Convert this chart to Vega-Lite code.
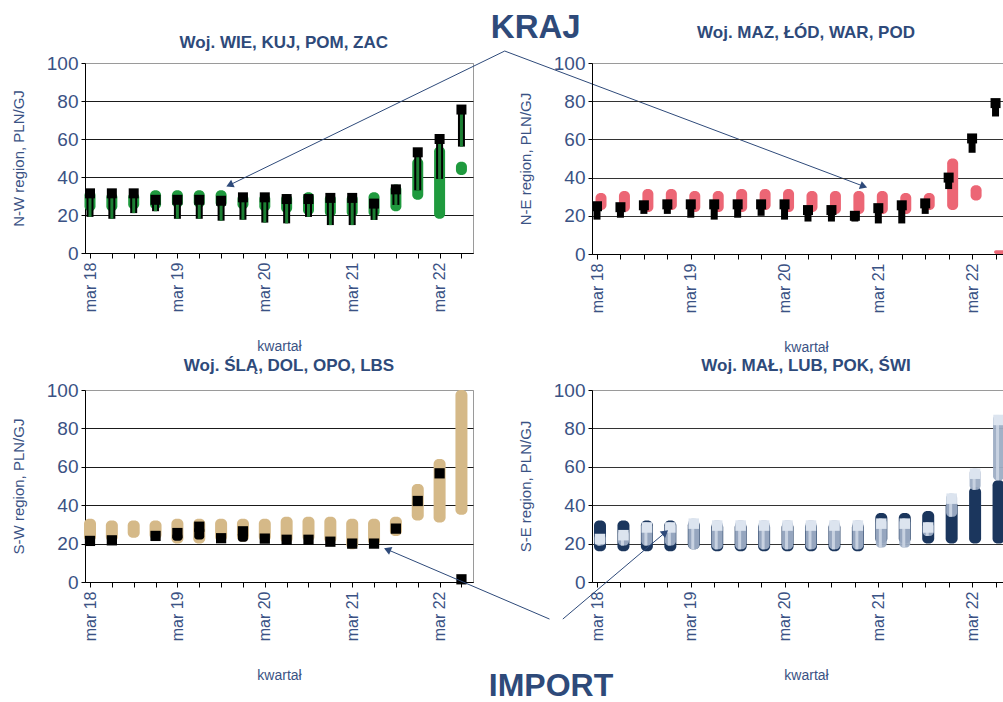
{
  "$schema": "https://vega.github.io/schema/vega-lite/v6.json",
  "background": "white",
  "padding": {"left": 10, "top": 11, "right": 0, "bottom": 0},
  "columns": 2,
  "spacing": {"row": 136, "column": 119},
  "bounds": "flush",
  "align": "each",
  "config": {
    "font": "Liberation Sans",
    "view": {"stroke": "#9a9a9a", "strokeWidth": 1},
    "axisY": {"labelFontSize": 19, "labelColor": "#3A5284", "titleColor": "#3A5284", "titleFontSize": 15, "titleFontWeight": "normal", "titlePadding": 20, "domainColor": "#000", "tickColor": "#000", "tickSize": 4, "labelPadding": 3, "grid": true, "gridColor": "#1a1a1a", "tickCount": 20, "labelOverlap": false, "labelFlush": false},
    "axisX": {"labelFontSize": 16, "labelColor": "#3A5284", "titleColor": "#3A5284", "titleFontSize": 14, "titleFontWeight": "normal", "titlePadding": 28, "labelAngle": -90, "labelFlush": false, "labelOverlap": false, "domainColor": "#000", "tickColor": "#000", "tickSize": 5, "labelPadding": 4, "grid": false, "tickCount": 40},
    "title": {"fontSize": 17, "fontWeight": "bold", "color": "#2E4A7A", "offset": 12}
  },
  "datasets": {
    "tl": [
      {"q":0,"dlo":22,"dhi":33,"ilo":19,"ihi":31.4},
      {"q":1,"dlo":22,"dhi":32,"ilo":18,"ihi":31.4},
      {"q":2,"dlo":23,"dhi":32,"ilo":21,"ihi":31.4},
      {"q":3,"dlo":23,"dhi":33,"ilo":22,"ihi":28},
      {"q":4,"dlo":24,"dhi":33,"ilo":18,"ihi":28},
      {"q":5,"dlo":24,"dhi":33,"ilo":18,"ihi":28},
      {"q":6,"dlo":24,"dhi":33,"ilo":17,"ihi":27.5},
      {"q":7,"dlo":23,"dhi":31,"ilo":17.5,"ihi":29.3},
      {"q":8,"dlo":22,"dhi":31,"ilo":16,"ihi":29.3},
      {"q":9,"dlo":21,"dhi":31,"ilo":15.6,"ihi":28.4},
      {"q":10,"dlo":20,"dhi":32,"ilo":19,"ihi":28.4},
      {"q":11,"dlo":19,"dhi":31,"ilo":14.7,"ihi":29},
      {"q":12,"dlo":19,"dhi":31,"ilo":14.7,"ihi":29},
      {"q":13,"dlo":19,"dhi":32,"ilo":17.4,"ihi":26},
      {"q":14,"dlo":22,"dhi":36,"ilo":25.3,"ihi":33.5},
      {"q":15,"dlo":28,"dhi":50,"ilo":33,"ihi":53},
      {"q":16,"dlo":18,"dhi":56,"ilo":39,"ihi":60},
      {"q":17,"dlo":41,"dhi":48,"ilo":56,"ihi":75.5}
    ],
    "tr": [
      {"q":0,"dlo":23,"dhi":32,"ilo":18,"ihi":25},
      {"q":1,"dlo":22,"dhi":33,"ilo":19,"ihi":24.5},
      {"q":2,"dlo":22,"dhi":34,"ilo":21,"ihi":25.5},
      {"q":3,"dlo":23,"dhi":34,"ilo":21,"ihi":26},
      {"q":4,"dlo":22,"dhi":33,"ilo":19,"ihi":26},
      {"q":5,"dlo":22,"dhi":33,"ilo":18,"ihi":26},
      {"q":6,"dlo":22,"dhi":34,"ilo":19,"ihi":26},
      {"q":7,"dlo":23,"dhi":34,"ilo":20,"ihi":26},
      {"q":8,"dlo":22,"dhi":34,"ilo":18,"ihi":26},
      {"q":9,"dlo":22,"dhi":33,"ilo":17,"ihi":23},
      {"q":10,"dlo":21,"dhi":33,"ilo":17,"ihi":23},
      {"q":11,"dlo":21,"dhi":33,"ilo":17,"ihi":20},
      {"q":12,"dlo":21,"dhi":33,"ilo":16,"ihi":24},
      {"q":13,"dlo":21,"dhi":32,"ilo":16,"ihi":25.5},
      {"q":14,"dlo":23,"dhi":32,"ilo":21,"ihi":26.5},
      {"q":15,"dlo":23,"dhi":50,"ilo":34,"ihi":40},
      {"q":16,"dlo":28,"dhi":36,"ilo":53,"ihi":60.5},
      {"q":17,"dlo":0,"dhi":2,"ilo":72,"ihi":79}
    ],
    "bl": [
      {"q":0,"dlo":21,"dhi":33,"ilo":21.4,"ihi":21.4},
      {"q":1,"dlo":21,"dhi":32,"ilo":21.7,"ihi":21.7},
      {"q":2,"dlo":23,"dhi":32,"ilo":null,"ihi":null},
      {"q":3,"dlo":22,"dhi":32,"ilo":24,"ihi":24},
      {"q":4,"dlo":20,"dhi":33,"ilo":21.5,"ihi":25.5},
      {"q":5,"dlo":20,"dhi":33,"ilo":22.2,"ihi":28.8},
      {"q":6,"dlo":21,"dhi":33,"ilo":22.8,"ihi":22.8},
      {"q":7,"dlo":21,"dhi":33,"ilo":21,"ihi":26.4},
      {"q":8,"dlo":21,"dhi":33,"ilo":22.6,"ihi":22.6},
      {"q":9,"dlo":20,"dhi":34,"ilo":22,"ihi":22},
      {"q":10,"dlo":21,"dhi":34,"ilo":22,"ihi":22},
      {"q":11,"dlo":20,"dhi":34,"ilo":21,"ihi":21},
      {"q":12,"dlo":17,"dhi":33,"ilo":20,"ihi":20},
      {"q":13,"dlo":19,"dhi":33,"ilo":20,"ihi":20},
      {"q":14,"dlo":24,"dhi":34,"ilo":27.8,"ihi":27.8},
      {"q":15,"dlo":32,"dhi":51,"ilo":42.2,"ihi":42.2},
      {"q":16,"dlo":31,"dhi":64,"ilo":56.6,"ihi":56.6},
      {"q":17,"dlo":35,"dhi":100,"ilo":1.4,"ihi":1.4}
    ],
    "br": [
      {"q":0,"dlo":16,"dhi":32,"ilo":19,"ihi":25},
      {"q":1,"dlo":16,"dhi":32,"ilo":19,"ihi":27},
      {"q":2,"dlo":16,"dhi":32,"ilo":19,"ihi":31},
      {"q":3,"dlo":16,"dhi":32,"ilo":19,"ihi":31},
      {"q":4,"dlo":17,"dhi":32,"ilo":17,"ihi":33},
      {"q":5,"dlo":16,"dhi":31,"ilo":17,"ihi":32},
      {"q":6,"dlo":16,"dhi":31,"ilo":17,"ihi":32},
      {"q":7,"dlo":16,"dhi":31,"ilo":17,"ihi":32},
      {"q":8,"dlo":16,"dhi":31,"ilo":17,"ihi":32},
      {"q":9,"dlo":16,"dhi":31,"ilo":17,"ihi":32},
      {"q":10,"dlo":16,"dhi":31,"ilo":17,"ihi":32},
      {"q":11,"dlo":16,"dhi":31,"ilo":17,"ihi":32},
      {"q":12,"dlo":20,"dhi":36,"ilo":18,"ihi":33},
      {"q":13,"dlo":20,"dhi":36,"ilo":18,"ihi":33},
      {"q":14,"dlo":20,"dhi":37,"ilo":24,"ihi":31},
      {"q":15,"dlo":20,"dhi":42,"ilo":34,"ihi":46},
      {"q":16,"dlo":20,"dhi":49.5,"ilo":48,"ihi":59},
      {"q":17,"dlo":20,"dhi":53,"ilo":53,"ihi":87}
    ],
    "krajArrows": [
      {"x1":18.98,"y1":106.3,"x2":6.39,"y2":35.8},
      {"x1":18.98,"y1":106.3,"x2":35.41,"y2":35.1}
    ],
    "krajHeadL": [{"x":6.39,"y":35.8}],
    "krajHeadR": [{"x":35.41,"y":35.1}],
    "blArrow": [{"x1":21.03,"y1":-19.3,"x2":13.61,"y2":16.9}],
    "brArrow": [{"x1":-1.458,"y1":-19.3,"x2":2.91,"y2":25.8}],
    "kraj": [{"t":"KRAJ","x":20.4,"y":118.4}],
    "tlTitle": [{"t":"Woj. WIE, KUJ, POM, ZAC","x":8.87,"y":110.5}],
    "imp": [{"t":"IMPORT","x":21.1,"y":-54.2}]
  },
  "concat": [
    {
      "width": 388, "height": 190,
      "layer": [
        {"data": {"name": "tl"},
         "mark": {"type": "bar", "size": 11, "cornerRadius": 5, "color": "#1F9A3E"},
         "encoding": {
           "x": {"field": "q", "type": "quantitative", "scale": {"domain": [0, 17.3], "nice": false, "zero": false}, "title": "kwartał",
                 "axis": {"values": [0,1,2,3,4,5,6,7,8,9,10,11,12,13,14,15,16,17], "labelExpr": "datum.value % 4 === 0 ? 'mar ' + (18 + datum.value / 4) : ''"}},
           "y": {"field": "dlo", "type": "quantitative", "scale": {"domain": [0, 100], "nice": false}, "title": "N-W region, PLN/GJ",
                 "axis": {"values": [0,20,40,60,80,100], "gridColor": {"condition": {"test": "datum.value === 100", "value": "#9a9a9a"}, "value": "#1a1a1a"}}},
           "y2": {"field": "dhi"}
         }},
        {"data": {"name": "tl"},
         "mark": {"type": "bar", "size": 7, "color": "#000"},
         "encoding": {
           "x": {"field": "q", "type": "quantitative", "scale": {"domain": [0, 17.3]}},
           "y": {"field": "ilo", "type": "quantitative", "scale": {"domain": [0, 100]}},
           "y2": {"field": "ihi"}
         }},
        {"data": {"name": "tl"},
         "mark": {"type": "bar", "size": 3, "color": "#1C7F33"},
         "encoding": {
           "x": {"field": "q", "type": "quantitative", "scale": {"domain": [0, 17.3]}},
           "y": {"field": "ilo", "type": "quantitative", "scale": {"domain": [0, 100]}},
           "y2": {"field": "ihi"}
         }},
        {"data": {"name": "tl"},
         "mark": {"type": "point", "shape": "square", "filled": true, "size": 100, "color": "#000", "opacity": 1},
         "encoding": {
           "x": {"field": "q", "type": "quantitative", "scale": {"domain": [0, 17.3]}},
           "y": {"field": "ihi", "type": "quantitative", "scale": {"domain": [0, 100]}}
         }},
        {"data": {"name": "krajArrows"},
         "mark": {"type": "rule", "color": "#2E4A7A", "strokeWidth": 1, "clip": false},
         "encoding": {
           "x": {"field": "x1", "type": "quantitative", "scale": {"domain": [0, 17.3]}},
           "y": {"field": "y1", "type": "quantitative", "scale": {"domain": [0, 100]}},
           "x2": {"field": "x2"}, "y2": {"field": "y2"}
         }},
        {"data": {"name": "krajHeadL"},
         "mark": {"type": "point", "shape": "triangle-up", "filled": true, "size": 70, "color": "#2E4A7A", "opacity": 1, "angle": 245, "clip": false},
         "encoding": {
           "x": {"field": "x", "type": "quantitative", "scale": {"domain": [0, 17.3]}},
           "y": {"field": "y", "type": "quantitative", "scale": {"domain": [0, 100]}}
         }},
        {"data": {"name": "krajHeadR"},
         "mark": {"type": "point", "shape": "triangle-up", "filled": true, "size": 70, "color": "#2E4A7A", "opacity": 1, "angle": 110, "clip": false},
         "encoding": {
           "x": {"field": "x", "type": "quantitative", "scale": {"domain": [0, 17.3]}},
           "y": {"field": "y", "type": "quantitative", "scale": {"domain": [0, 100]}}
         }},
        {"data": {"name": "kraj"},
         "mark": {"type": "text", "fontSize": 33, "fontWeight": "bold", "color": "#2E4A7A", "align": "center", "baseline": "middle"},
         "encoding": {
           "x": {"field": "x", "type": "quantitative", "scale": {"domain": [0, 17.3]}},
           "y": {"field": "y", "type": "quantitative", "scale": {"domain": [0, 100]}},
           "text": {"field": "t"}
         }},
        {"data": {"name": "tlTitle"},
         "mark": {"type": "text", "fontSize": 17, "fontWeight": "bold", "color": "#2E4A7A", "align": "center", "baseline": "middle"},
         "encoding": {
           "x": {"field": "x", "type": "quantitative", "scale": {"domain": [0, 17.3]}},
           "y": {"field": "y", "type": "quantitative", "scale": {"domain": [0, 100]}},
           "text": {"field": "t"}
         }}
      ]
    },
    {
      "width": 428, "height": 191,
      "title": {"text": "Woj. MAZ, ŁÓD, WAR, POD", "offset": 12},
      "layer": [
        {"data": {"name": "tr"},
         "mark": {"type": "bar", "size": 11, "cornerRadius": 5, "color": "#EC6675", "xOffset": 4},
         "encoding": {
           "x": {"field": "q", "type": "quantitative", "scale": {"domain": [0, 17.83], "nice": false, "zero": false}, "title": "kwartał",
                 "axis": {"values": [0,1,2,3,4,5,6,7,8,9,10,11,12,13,14,15,16,17], "labelExpr": "datum.value % 4 === 0 ? 'mar ' + (18 + datum.value / 4) : ''"}},
           "y": {"field": "dlo", "type": "quantitative", "scale": {"domain": [0, 100], "nice": false}, "title": "N-E region, PLN/GJ",
                 "axis": {"values": [0,20,40,60,80,100], "gridColor": {"condition": {"test": "datum.value === 100", "value": "#9a9a9a"}, "value": "#333333"}}},
           "y2": {"field": "dhi"}
         }},
        {"data": {"name": "tr"},
         "mark": {"type": "bar", "size": 7, "color": "#000"},
         "encoding": {
           "x": {"field": "q", "type": "quantitative", "scale": {"domain": [0, 17.83]}},
           "y": {"field": "ilo", "type": "quantitative", "scale": {"domain": [0, 100]}},
           "y2": {"field": "ihi"}
         }},
        {"data": {"name": "tr"},
         "mark": {"type": "point", "shape": "square", "filled": true, "size": 100, "color": "#000", "opacity": 1},
         "encoding": {
           "x": {"field": "q", "type": "quantitative", "scale": {"domain": [0, 17.83]}},
           "y": {"field": "ihi", "type": "quantitative", "scale": {"domain": [0, 100]}}
         }}
      ]
    },
    {
      "width": 388, "height": 192,
      "title": {"text": "Woj. ŚLĄ, DOL, OPO, LBS", "offset": 6, "dx": 10},
      "layer": [
        {"data": {"name": "bl"},
         "mark": {"type": "bar", "size": 12, "cornerRadius": 5, "color": "#D5B988"},
         "encoding": {
           "x": {"field": "q", "type": "quantitative", "scale": {"domain": [0, 17.3], "nice": false, "zero": false}, "title": "kwartał",
                 "axis": {"values": [0,1,2,3,4,5,6,7,8,9,10,11,12,13,14,15,16,17], "labelExpr": "datum.value % 4 === 0 ? 'mar ' + (18 + datum.value / 4) : ''"}},
           "y": {"field": "dlo", "type": "quantitative", "scale": {"domain": [0, 100], "nice": false}, "title": "S-W region, PLN/GJ",
                 "axis": {"values": [0,20,40,60,80,100], "gridColor": {"condition": {"test": "datum.value === 100", "value": "#9a9a9a"}, "value": "#1a1a1a"}}},
           "y2": {"field": "dhi"}
         }},
        {"data": {"name": "bl"},
         "mark": {"type": "bar", "size": 10, "cornerRadius": 3, "color": "#000"},
         "encoding": {
           "x": {"field": "q", "type": "quantitative", "scale": {"domain": [0, 17.3]}},
           "y": {"field": "ilo", "type": "quantitative", "scale": {"domain": [0, 100]}},
           "y2": {"field": "ihi"}
         }},
        {"data": {"name": "bl"},
         "mark": {"type": "point", "shape": "square", "filled": true, "size": 105, "color": "#000", "opacity": 1},
         "encoding": {
           "x": {"field": "q", "type": "quantitative", "scale": {"domain": [0, 17.3]}},
           "y": {"field": "ihi", "type": "quantitative", "scale": {"domain": [0, 100]}}
         }},
        {"data": {"name": "blArrow"},
         "mark": {"type": "rule", "color": "#2E4A7A", "strokeWidth": 1, "clip": false},
         "encoding": {
           "x": {"field": "x1", "type": "quantitative", "scale": {"domain": [0, 17.3]}},
           "y": {"field": "y1", "type": "quantitative", "scale": {"domain": [0, 100]}},
           "x2": {"field": "x2"}, "y2": {"field": "y2"}
         }},
        {"data": {"name": "blArrow"},
         "mark": {"type": "point", "shape": "triangle-up", "filled": true, "size": 70, "color": "#2E4A7A", "opacity": 1, "angle": 293, "clip": false},
         "encoding": {
           "x": {"field": "x2", "type": "quantitative", "scale": {"domain": [0, 17.3]}},
           "y": {"field": "y2", "type": "quantitative", "scale": {"domain": [0, 100]}}
         }},
        {"data": {"name": "imp"},
         "mark": {"type": "text", "fontSize": 32, "fontWeight": "bold", "color": "#2E4A7A", "align": "center", "baseline": "middle"},
         "encoding": {
           "x": {"field": "x", "type": "quantitative", "scale": {"domain": [0, 17.3]}},
           "y": {"field": "y", "type": "quantitative", "scale": {"domain": [0, 100]}},
           "text": {"field": "t"}
         }}
      ]
    },
    {
      "width": 428, "height": 192,
      "title": {"text": "Woj. MAŁ, LUB, POK, ŚWI", "offset": 6},
      "layer": [
        {"data": {"name": "br"},
         "mark": {"type": "bar", "size": 12, "cornerRadius": 5, "color": "#1B365D", "xOffset": 3},
         "encoding": {
           "x": {"field": "q", "type": "quantitative", "scale": {"domain": [0, 17.83], "nice": false, "zero": false}, "title": "kwartał",
                 "axis": {"values": [0,1,2,3,4,5,6,7,8,9,10,11,12,13,14,15,16,17], "labelExpr": "datum.value % 4 === 0 ? 'mar ' + (18 + datum.value / 4) : ''"}},
           "y": {"field": "dlo", "type": "quantitative", "scale": {"domain": [0, 100], "nice": false}, "title": "S-E region, PLN/GJ",
                 "axis": {"values": [0,20,40,60,80,100], "gridColor": {"condition": {"test": "datum.value === 100", "value": "#9a9a9a"}, "value": "#333333"}}},
           "y2": {"field": "dhi"}
         }},
        {"data": {"name": "br"},
         "mark": {"type": "bar", "size": 11, "cornerRadius": 4, "color": "#9DADC4", "xOffset": 3, "opacity": 0.95},
         "encoding": {
           "x": {"field": "q", "type": "quantitative", "scale": {"domain": [0, 17.83]}},
           "y": {"field": "ilo", "type": "quantitative", "scale": {"domain": [0, 100]}},
           "y2": {"field": "ihi"}
         }},
        {"data": {"name": "br"},
         "mark": {"type": "bar", "size": 3, "color": "#C8D2E1", "xOffset": 2},
         "encoding": {
           "x": {"field": "q", "type": "quantitative", "scale": {"domain": [0, 17.83]}},
           "y": {"field": "ilo", "type": "quantitative", "scale": {"domain": [0, 100]}},
           "y2": {"field": "ihi"}
         }},
        {"data": {"name": "br"},
         "mark": {"type": "point", "shape": "square", "filled": true, "size": 110, "color": "#DCE4EF", "opacity": 1, "xOffset": 3, "yOffset": 5},
         "encoding": {
           "x": {"field": "q", "type": "quantitative", "scale": {"domain": [0, 17.83]}},
           "y": {"field": "ihi", "type": "quantitative", "scale": {"domain": [0, 100]}}
         }},
        {"data": {"name": "brArrow"},
         "mark": {"type": "rule", "color": "#2E4A7A", "strokeWidth": 1, "clip": false},
         "encoding": {
           "x": {"field": "x1", "type": "quantitative", "scale": {"domain": [0, 17.83]}},
           "y": {"field": "y1", "type": "quantitative", "scale": {"domain": [0, 100]}},
           "x2": {"field": "x2"}, "y2": {"field": "y2"}
         }},
        {"data": {"name": "brArrow"},
         "mark": {"type": "point", "shape": "triangle-up", "filled": true, "size": 70, "color": "#2E4A7A", "opacity": 1, "angle": 50.5, "clip": false},
         "encoding": {
           "x": {"field": "x2", "type": "quantitative", "scale": {"domain": [0, 17.83]}},
           "y": {"field": "y2", "type": "quantitative", "scale": {"domain": [0, 100]}}
         }}
      ]
    }
  ]
}
